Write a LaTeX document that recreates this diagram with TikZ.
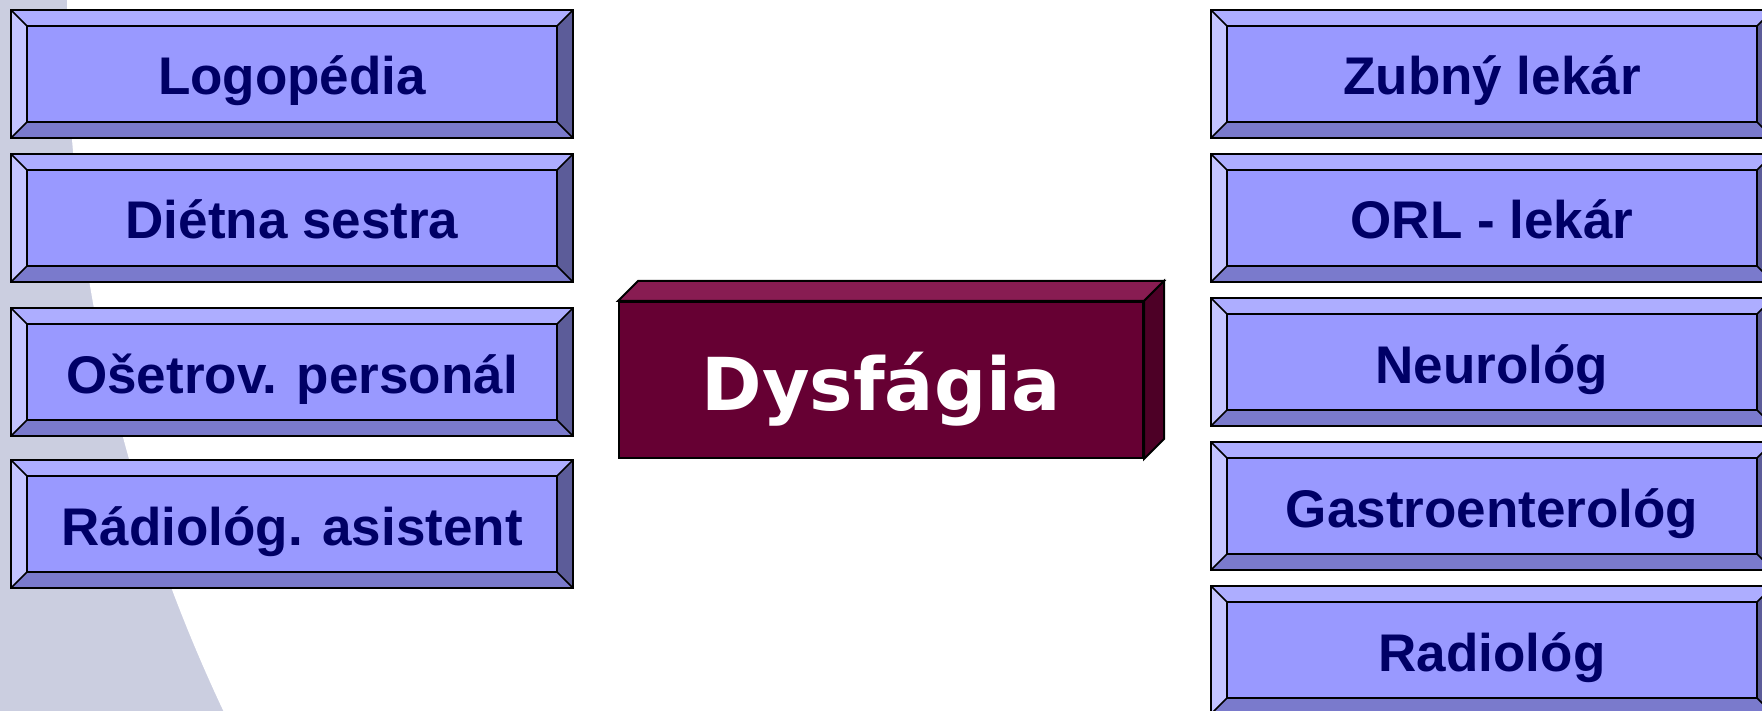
\documentclass[tikz,border=0pt]{standalone}
\usepackage{fontspec}
\newfontfamily\arialfont{Liberation Sans}
\newfontfamily\verdfont{DejaVu Sans}
\definecolor{bggray}{RGB}{203,206,224}
\definecolor{face}{RGB}{153,153,255}
\definecolor{bvtopc}{RGB}{173,173,255}
\definecolor{bvleftc}{RGB}{196,196,255}
\definecolor{bvbotc}{RGB}{122,122,204}
\definecolor{bvrightc}{RGB}{92,92,153}
\definecolor{navy}{RGB}{0,0,102}
\definecolor{wine}{RGB}{102,0,51}
\definecolor{winetop}{RGB}{136,28,82}
\definecolor{wineside}{RGB}{77,0,38}
\tikzset{
  x=1pt, y=-1pt,
  bevelbox/.style={minimum width=562pt, minimum height=128pt, inner sep=0pt,
    fill=face, text=navy, font={\arialfont\bfseries\fontsize{53}{60}\selectfont},
    text height=42pt, text depth=0pt},
  edge/.style={draw=black, line width=2pt, line join=miter},
  diag/.style={draw=black, line width=1.5pt},
  bvtop/.style={fill=bvtopc},
  bvbot/.style={fill=bvbotc},
  bvleft/.style={fill=bvleftc},
  bvright/.style={fill=bvrightc},
  dysbox/.style={minimum width=524pt, minimum height=156pt, inner sep=0pt,
    fill=wine, draw=black, line width=2pt, text=white,
    font={\verdfont\bfseries\fontsize{73}{80}\selectfont},
    text height=60pt, text depth=0pt},
}
\newcommand\bevbox[3]{%
  \node[bevelbox] (#1) at (#2) {#3};
  \fill[bvtop] (#1.north west) -- (#1.north east) -- ([shift={(-16pt,-16pt)}]#1.north east) -- ([shift={(16pt,-16pt)}]#1.north west) -- cycle;
  \fill[bvbot] (#1.south west) -- (#1.south east) -- ([shift={(-16pt,16pt)}]#1.south east) -- ([shift={(16pt,16pt)}]#1.south west) -- cycle;
  \fill[bvleft] (#1.north west) -- (#1.south west) -- ([shift={(16pt,16pt)}]#1.south west) -- ([shift={(16pt,-16pt)}]#1.north west) -- cycle;
  \fill[bvright] (#1.north east) -- (#1.south east) -- ([shift={(-16pt,16pt)}]#1.south east) -- ([shift={(-16pt,-16pt)}]#1.north east) -- cycle;
  \draw[edge] (#1.north west) rectangle (#1.south east);
  \draw[edge] ([shift={(16pt,-16pt)}]#1.north west) rectangle ([shift={(-16pt,16pt)}]#1.south east);
  \draw[diag] (#1.north west) -- ++(16pt,-16pt) (#1.north east) -- ++(-16pt,-16pt)
              (#1.south west) -- ++(16pt,16pt) (#1.south east) -- ++(-16pt,16pt);
}
\begin{document}
\begin{tikzpicture}
\useasboundingbox (0,0) rectangle (1762,711);
\clip (0,0) rectangle (1762,711);
% background
\fill[bggray] (0,0) rectangle (1762,711);
\fill[white] (1712,10) circle[radius=1645pt];
% left column
\bevbox{logo}{292,74}{Logopédia}
\bevbox{diet}{292,218}{Diétna sestra}
\bevbox{oset}{292,372}{Ošetrov. personál}
\bevbox{radas}{292,524}{Rádiológ. asistent}
% right column
\bevbox{zub}{1492,74}{Zubný lekár}
\bevbox{orl}{1492,218}{ORL - lekár}
\bevbox{neuro}{1492,362}{Neurológ}
\bevbox{gastro}{1492,506}{Gastroenterológ}
\bevbox{radio}{1492,650}{Radiológ}
% center
\node[dysbox] (dys) at (881,380) {Dysfágia};
\filldraw[fill=winetop, edge] (dys.north west) -- ++(20pt,20pt) -- ([shift={(20pt,20pt)}]dys.north east) -- (dys.north east) -- cycle;
\filldraw[fill=wineside, edge] (dys.north east) -- ++(20pt,20pt) -- ([shift={(20pt,20pt)}]dys.south east) -- (dys.south east) -- cycle;
\end{tikzpicture}
\end{document}
